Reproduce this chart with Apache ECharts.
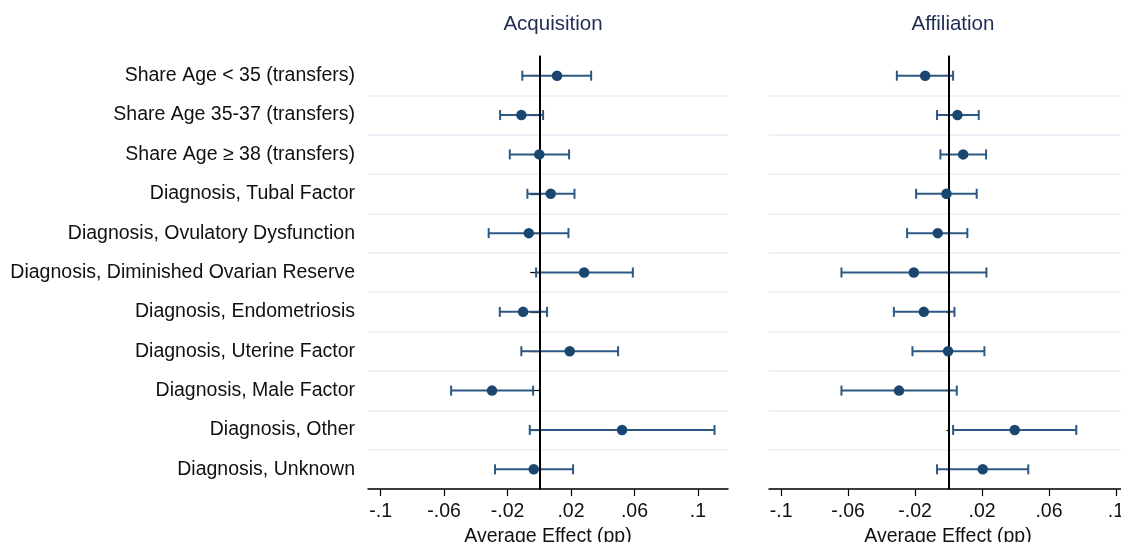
<!DOCTYPE html>
<html>
<head>
<meta charset="utf-8">
<script src="https://cdn.jsdelivr.net/npm/echarts@6/dist/echarts.min.js"></script>
<style>html,body{margin:0;padding:0;background:#fff}#c{width:1121px;height:542px}</style>
</head>
<body>
<div id="c"></div>
<script>
const categories = [
  'Share Age < 35 (transfers)',
  'Share Age 35-37 (transfers)',
  'Share Age \u2265 38 (transfers)',
  'Diagnosis, Tubal Factor',
  'Diagnosis, Ovulatory Dysfunction',
  'Diagnosis, Diminished Ovarian Reserve',
  'Diagnosis, Endometriosis',
  'Diagnosis, Uterine Factor',
  'Diagnosis, Male Factor',
  'Diagnosis, Other',
  'Diagnosis, Unknown'
];
const panelTitles = ['Acquisition', 'Affiliation'];
const acqEst  = [0.0112, -0.0113, 0.0000, 0.0072, -0.0066, 0.0283, -0.0102, 0.0192, -0.0298, 0.0522, -0.0035];
const acqLow  = [-0.0107, -0.0247, -0.0186, -0.0075, -0.0319, -0.0020, -0.0249, -0.0113, -0.0556, -0.0060, -0.0279];
const acqHigh = [0.0327, 0.0024, 0.0188, 0.0222, 0.0184, 0.0590, 0.0049, 0.0497, -0.0039, 0.1105, 0.0213];
const affEst  = [-0.0140, 0.0053, 0.0087, -0.0013, -0.0065, -0.0208, -0.0148, -0.0003, -0.0296, 0.0395, 0.0204];
const affLow  = [-0.0309, -0.0069, -0.0049, -0.0194, -0.0248, -0.0640, -0.0327, -0.0216, -0.0640, 0.0027, -0.0069];
const affHigh = [0.0027, 0.0180, 0.0224, 0.0168, 0.0112, 0.0226, 0.0035, 0.0214, 0.0049, 0.0763, 0.0476];
const tickValues = [-0.1, -0.06, -0.02, 0.02, 0.06, 0.1];
const tickLabels = ['-.1', '-.06', '-.02', '.02', '.06', '.1'];
const xTitle = 'Average Effect (pp)';

const FONT = 'Liberation Sans, Arial, Helvetica, sans-serif';
const NAVY = '#1a476f';
const BAR = '#2c5883';

function fmt(v) {
  for (let i = 0; i < tickValues.length; i++) {
    if (Math.abs(v - tickValues[i]) < 1e-9) return tickLabels[i];
  }
  return '';
}

function xAxisFor(gi, min, max) {
  return {
    type: 'value', gridIndex: gi, min: min, max: max,
    axisLine: {show: true, onZero: false, lineStyle: {color: '#000', width: 1.5}},
    axisTick: {show: true, length: 7, lineStyle: {color: '#000', width: 1.2}, customValues: tickValues},
    axisLabel: {customValues: tickValues, formatter: fmt, margin: 13, fontSize: 19.5, color: '#111', fontFamily: FONT},
    splitLine: {show: false},
    name: xTitle, nameLocation: 'middle', nameGap: 35,
    nameTextStyle: {fontSize: 19.5, color: '#111', fontFamily: FONT}
  };
}
function yAxisFor(gi, showLabels) {
  return {
    type: 'category', gridIndex: gi, data: categories, inverse: true, boundaryGap: true,
    axisLine: {show: true, lineStyle: {color: '#000', width: 1.5}},
    axisTick: {show: true, alignWithLabel: true, length: showLabels ? 9 : 2, lineStyle: {color: '#000', width: 1.2}},
    axisLabel: {show: showLabels, margin: 13, fontSize: 19.5, color: '#111', fontFamily: FONT},
    splitLine: {show: true, interval: function (idx) { return idx > 0; }, lineStyle: {color: '#e6eef5', width: 1.5}}
  };
}
function errSeries(gi, low, high) {
  return {
    type: 'custom', xAxisIndex: gi, yAxisIndex: gi,
    data: low.map((l, i) => [i, l, high[i]]),
    encode: {x: [1, 2], y: 0},
    z: 3,
    renderItem: function (params, api) {
      const c = api.value(0);
      const p1 = api.coord([api.value(1), c]);
      const p2 = api.coord([api.value(2), c]);
      const h = 5;
      const st = {stroke: BAR, lineWidth: 2, fill: null};
      return {type: 'group', children: [
        {type: 'line', shape: {x1: p1[0], y1: p1[1], x2: p2[0], y2: p2[1]}, style: st},
        {type: 'line', shape: {x1: p1[0], y1: p1[1] - h, x2: p1[0], y2: p1[1] + h}, style: st},
        {type: 'line', shape: {x1: p2[0], y1: p2[1] - h, x2: p2[0], y2: p2[1] + h}, style: st}
      ]};
    }
  };
}
function ptSeries(gi, est) {
  return {
    type: 'scatter', xAxisIndex: gi, yAxisIndex: gi,
    data: est.map((v, i) => [v, i]),
    symbol: 'circle', symbolSize: 10.5, z: 5,
    itemStyle: {color: NAVY, opacity: 1},
    markLine: {
      silent: true, symbol: ['none', 'none'], label: {show: false},
      lineStyle: {color: '#000', width: 2, type: 'solid', opacity: 1},
      data: [{xAxis: 0}]
    }
  };
}

const chart = echarts.init(document.getElementById('c'), null, {renderer: 'canvas'});
chart.setOption({
  animation: false,
  backgroundColor: '#fff',
  title: [
    {text: panelTitles[0], left: 548, top: 9, textAlign: 'center', textStyle: {fontSize: 20.5, fontWeight: 'normal', color: '#1f2d55', fontFamily: FONT}},
    {text: panelTitles[1], left: 948, top: 9, textAlign: 'center', textStyle: {fontSize: 20.5, fontWeight: 'normal', color: '#1f2d55', fontFamily: FONT}}
  ],
  grid: [
    {left: 368, top: 56, width: 360, height: 433, outerBoundsMode: 'none', containLabel: false},
    {left: 769, top: 56, width: 358, height: 433, outerBoundsMode: 'none', containLabel: false}
  ],
  xAxis: [xAxisFor(0, -0.108, 0.119), xAxisFor(1, -0.1073, 0.1066)],
  yAxis: [yAxisFor(0, true), yAxisFor(1, false)],
  series: [
    errSeries(0, acqLow, acqHigh), ptSeries(0, acqEst),
    errSeries(1, affLow, affHigh), ptSeries(1, affEst)
  ]
});
</script>
</body>
</html>
